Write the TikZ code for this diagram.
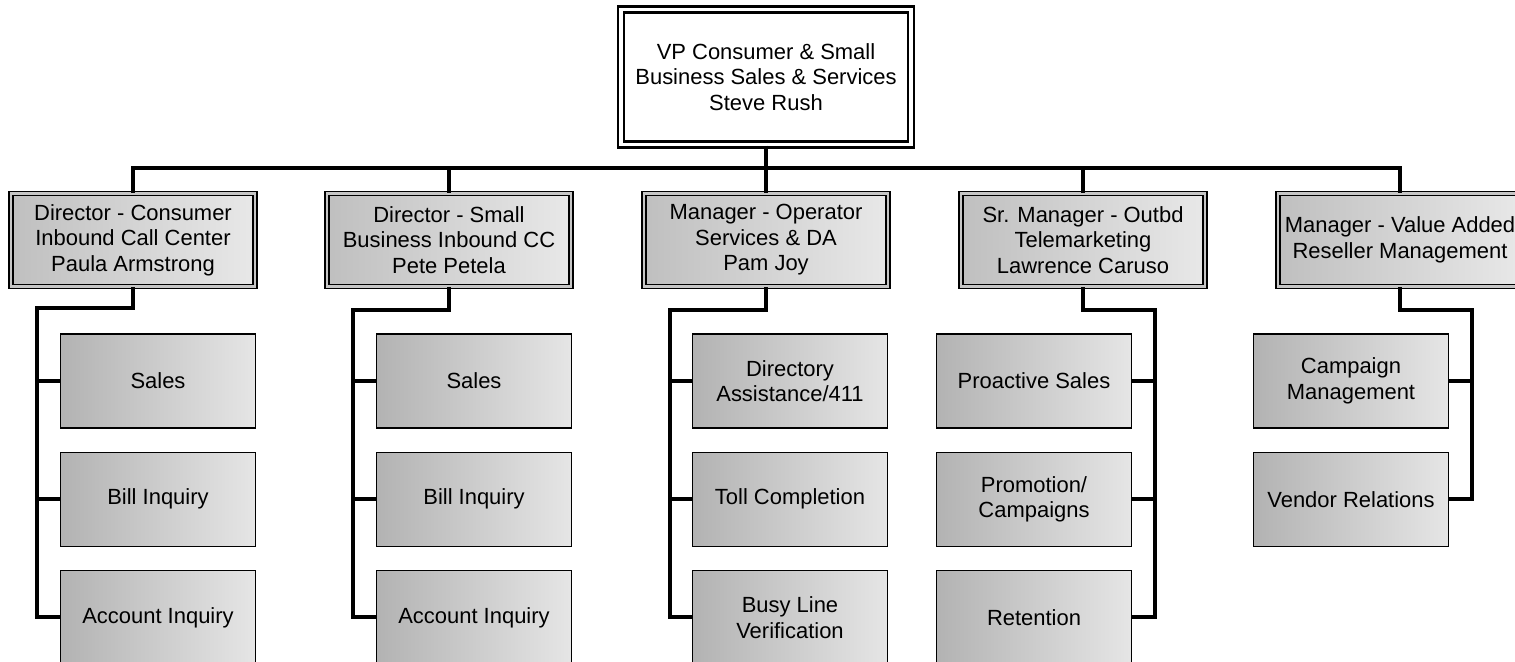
\documentclass[tikz,border=0pt]{standalone}
\usepackage{fontspec}
\setmainfont{Liberation Sans}
\usetikzlibrary{positioning}

\tikzset{
    boss/.style={draw, line width=1.2pt, double=white, double distance=2.2pt,
        fill=white, minimum width=5.8cm, minimum height=2.7cm, align=center,
        font=\fontsize{12.5}{14.5}\selectfont},
    head/.style={draw, line width=0.8pt, double=gray!45, double distance=1.6pt,
        left color=gray!50, right color=gray!18, minimum width=4.88cm,
        minimum height=1.86cm, align=center, font=\fontsize{12.5}{14.5}\selectfont},
    unit/.style={draw, line width=0.7pt, left color=gray!60, right color=gray!20,
        minimum width=3.9cm, minimum height=1.88cm, align=center,
        font=\fontsize{12.5}{14.5}\selectfont},
    bus/.style={line width=2.8pt},
    link/.style={line width=2.3pt}
}

\begin{document}
\begin{tikzpicture}[x=0.02cm, y=-0.02cm]
    \useasboundingbox (0,0) rectangle (1515,662);
    \clip (0,0) rectangle (1515,662);
    % top of the chart
    \node[boss] (VP) at (766,77) {VP Consumer \& Small\\Business Sales \& Services\\Steve Rush};
    % second level
    \node[head] (C1) at (133,240) {Director - Consumer\\Inbound Call Center\\Paula Armstrong};
    \node[head] (C2) at (449,240) {Director - Small\\Business Inbound CC\\Pete Petela};
    \node[head] (C3) at (766,240) {Manager - Operator\\Services \& DA\\Pam Joy};
    \node[head] (C4) at (1083,240) {Sr. Manager - Outbd\\Telemarketing\\Lawrence Caruso};
    \node[head] (C5) at (1400,240) {Manager - Value Added\\Reseller Management};
    % third level
    \node[unit] (nC11) at (158,381) {Sales};
    \node[unit, below=0.46cm of nC11] (nC12) {Bill Inquiry};
    \node[unit, below=0.46cm of nC12] (nC13) {Account Inquiry};
    \node[unit] (nC21) at (474,381) {Sales};
    \node[unit, below=0.46cm of nC21] (nC22) {Bill Inquiry};
    \node[unit, below=0.46cm of nC22] (nC23) {Account Inquiry};
    \node[unit] (nC31) at (790,381) {Directory\\Assistance/411};
    \node[unit, below=0.46cm of nC31] (nC32) {Toll Completion};
    \node[unit, below=0.46cm of nC32] (nC33) {Busy Line\\Verification};
    \node[unit] (nC41) at (1034,381) {Proactive Sales};
    \node[unit, below=0.46cm of nC41] (nC42) {Promotion/\\Campaigns};
    \node[unit, below=0.46cm of nC42] (nC43) {Retention};
    \node[unit] (nC51) at (1351,381) {Campaign\\Management};
    \node[unit, below=0.46cm of nC51] (nC52) {Vendor Relations};
    % bend points of the lines
    \coordinate (b) at (766,168);
    \coordinate (s1) at (37,308);
    \coordinate (s2) at (353,310);
    \coordinate (s3) at (670,310);
    \coordinate (s4) at (1155,310);
    \coordinate (s5) at (1472,310);
    % draw the lines between them
    \draw[bus] (VP.south) -- (C3.north);
    \draw[bus] (C1.north) |- (b) -| (C5.north);
    \draw[bus] (C2.north) -- (C2.north |- b);
    \draw[bus] (C4.north) -- (C4.north |- b);
    \draw[link] (C1.south) |- (s1) |- (nC13.west);
    \draw[link] (s1) |- (nC11.west);
    \draw[link] (s1) |- (nC12.west);
    \draw[link] (C2.south) |- (s2) |- (nC23.west);
    \draw[link] (s2) |- (nC21.west);
    \draw[link] (s2) |- (nC22.west);
    \draw[link] (C3.south) |- (s3) |- (nC33.west);
    \draw[link] (s3) |- (nC31.west);
    \draw[link] (s3) |- (nC32.west);
    \draw[link] (C4.south) |- (s4) |- (nC43.east);
    \draw[link] (s4) |- (nC41.east);
    \draw[link] (s4) |- (nC42.east);
    \draw[link] (C5.south) |- (s5) |- (nC52.east);
    \draw[link] (s5) |- (nC51.east);
\end{tikzpicture}
\end{document}
